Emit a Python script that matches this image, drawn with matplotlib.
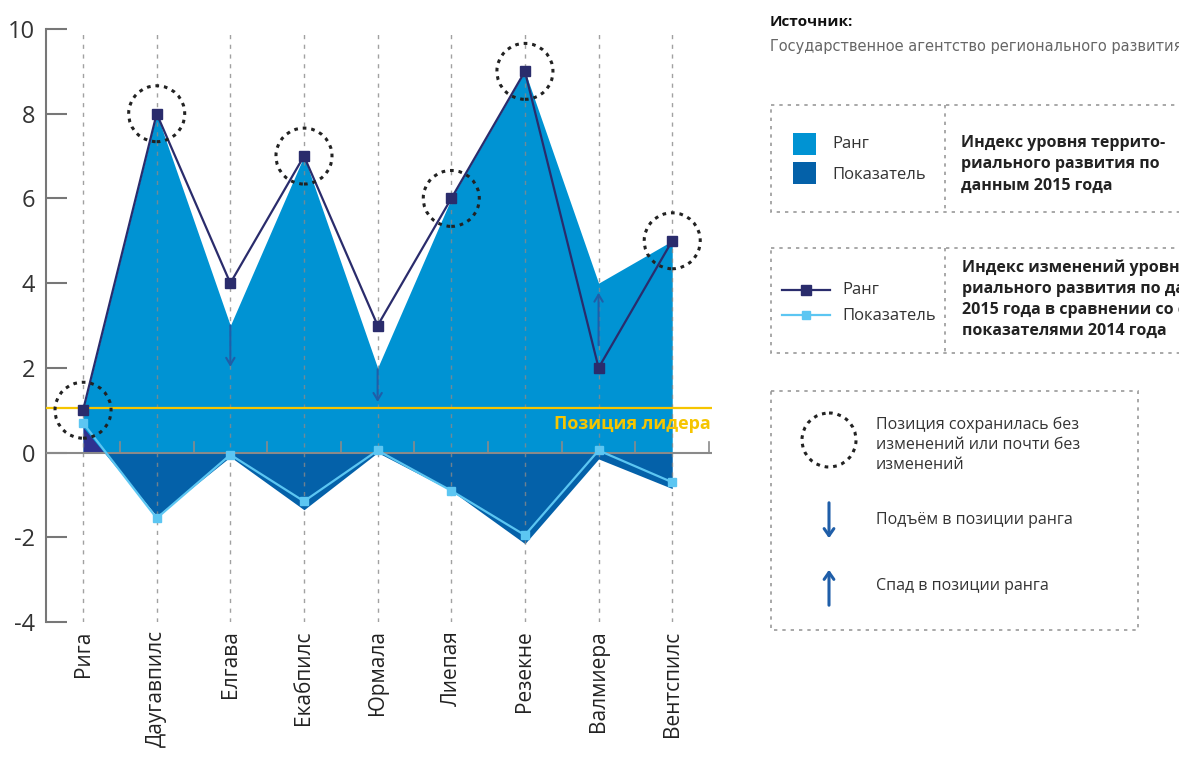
import matplotlib.pyplot as plt
from matplotlib.patches import Rectangle, Ellipse
from matplotlib.lines import Line2D

plt.rcParams['font.family'] = ['Open Sans', 'DejaVu Sans']

# data
cities = ['Рига', 'Даугавпилс', 'Елгава', 'Екабпилс', 'Юрмала',
          'Лиепая', 'Резекне', 'Валмиера', 'Вентспилс']
rank_2015 = [1, 8, 3, 7, 2, 6, 9, 4, 5]            # fill, light blue
index_2015 = [0.6, -1.5, -0.1, -1.35, 0.0, -0.9, -2.15, -0.15, -0.85]  # fill, dark blue
rank_change = [1, 8, 4, 7, 3, 6, 9, 2, 5]           # line, navy
index_change = [0.7, -1.55, -0.05, -1.15, 0.05, -0.9, -1.95, 0.05, -0.7]  # line, light
leader_level = 1.05
unchanged = [0, 1, 3, 5, 6, 8]        # circled points
arrows = [(2, 3.07, 1.96), (4, 2.03, 1.13), (7, 2.47, 3.84)]  # (city, from, to)

c_fill1 = '#0093d3'
c_fill2 = '#0461a9'
c_navy = '#2a2c6c'
c_pos = '#2e3190'
c_light = '#5cc6f2'
c_yellow = '#f6c500'
c_arrow = '#1f5ea8'
c_grey = '#777777'

fig = plt.figure(figsize=(11.79, 7.6), dpi=100)
ax = fig.add_axes([46 / 1179, 138 / 760, 666 / 1179, 593 / 760])

x = list(range(len(cities)))

ax.fill_between(x, 0, rank_2015, color=c_fill1, lw=0, zorder=1)
ax.fill_between(x, 0, index_2015, where=[v <= 0 for v in index_2015],
                interpolate=True, color=c_fill2, lw=0, zorder=2)
ax.fill_between(x, 0, index_2015, where=[v > 0 for v in index_2015],
                interpolate=True, color=c_pos, lw=0, zorder=2)

for i in x:
    ax.axvline(i, color='#8a8a8a', lw=1, ls=(0, (3, 4)), zorder=3, alpha=0.8)

ax.axhline(leader_level, color=c_yellow, lw=1.6, zorder=4)
ax.text(8.52, 0.67, 'Позиция лидера', color=c_yellow, fontsize=13,
        fontweight='bold', ha='right', va='center', zorder=6)

# zero line with small ticks between categories
ax.plot([-0.503, 8.54], [0, 0], color='#8a8a8a', lw=1.5, zorder=4)
for t in [i + 0.5 for i in x]:
    ax.plot([t, t], [0, 0.25], color='#8a8a8a', lw=1.2, zorder=4)

ax.plot(x, index_change, color=c_light, lw=1.6, marker='s', ms=6,
        mfc=c_light, mec=c_light, zorder=5)
ax.plot(x, rank_change, color=c_navy, lw=1.6, marker='s', ms=7,
        mfc=c_navy, mec=c_navy, zorder=5)

for i in unchanged:
    ax.add_patch(Ellipse((i, rank_change[i]), 56 / 73.6, 56 / 42.4,
                         fill=False, ec='#222222', lw=2.2,
                         ls=(0, (1.2, 1.6)), zorder=6))

for i, y0, y1 in arrows:
    ax.annotate('', xy=(i, y1), xytext=(i, y0),
                arrowprops=dict(arrowstyle='->,head_length=0.5,head_width=0.3',
                                color=c_arrow, lw=1.5), zorder=6)

ax.set_xlim(-0.503, 8.54)
ax.set_ylim(-4, 10)
ax.set_yticks([10, 8, 6, 4, 2, 0, -2, -4])
ax.set_yticklabels(['10', '8', '6', '4', '2', '0', '-2', '-4'])
ax.set_xticks(x)
ax.set_xticklabels(cities, rotation=90, fontsize=15, color='#222222')
ax.tick_params(axis='x', length=0, pad=6)
ax.tick_params(axis='y', direction='in', length=15, width=1.5, color=c_grey,
               labelsize=17, labelcolor='#333333', pad=8)
for s in ['top', 'right', 'bottom']:
    ax.spines[s].set_visible(False)
ax.spines['left'].set_color(c_grey)
ax.spines['left'].set_linewidth(1.5)
ax.patch.set_alpha(0)

# right panel in pixel coordinates
ov = fig.add_axes([0, 0, 1, 1], zorder=10)
ov.set_xlim(0, 1179)
ov.set_ylim(760, 0)
ov.axis('off')
ov.patch.set_alpha(0)

ov.text(770, 22, 'Источник:', fontsize=11, fontweight='bold', color='#111111',
        va='center')
ov.text(770, 47, 'Государственное агентство регионального развития',
        fontsize=10.5, color='#666666', va='center',
        family=['Liberation Sans Narrow', 'DejaVu Sans'])

box_ls = (0, (2, 3))
for (bx, by, bw, bh) in [(771, 105, 440, 107), (771, 248, 440, 105),
                         (771, 391, 367, 239)]:
    ov.add_patch(Rectangle((bx, by), bw, bh, fill=False, ec='#999999',
                           lw=1.2, ls=box_ls))
for by, bh in [(105, 107), (248, 105)]:
    ov.plot([945, 945], [by, by + bh], color='#999999', lw=1.2, ls=box_ls)

# legend 1
ov.add_patch(Rectangle((793, 133), 23, 22, color=c_fill1, lw=0))
ov.add_patch(Rectangle((793, 162), 23, 22, color=c_fill2, lw=0))
ov.text(832, 144, 'Ранг', fontsize=12, color='#333333', va='center')
ov.text(832, 175, 'Показатель', fontsize=12, color='#333333', va='center')
ov.text(961, 135, 'Индекс уровня террито-\nриального развития по\nданным 2015 года',
        fontsize=11.5, fontweight='bold', color='#222222', va='top',
        linespacing=1.45)

# legend 2
ov.add_line(Line2D([782, 806, 830], [290, 290, 290], color=c_navy, lw=1.6,
                   marker='s', ms=7, markevery=[1], mfc=c_navy, mec=c_navy))
ov.add_line(Line2D([782, 806, 830], [315, 315, 315], color=c_light, lw=1.6,
                   marker='s', ms=6, markevery=[1], mfc=c_light, mec=c_light))
ov.text(842, 290, 'Ранг', fontsize=12, color='#333333', va='center')
ov.text(842, 316, 'Показатель', fontsize=12, color='#333333', va='center')
ov.text(962, 260, 'Индекс изменений уровня террито-\nриального развития по данным\n'
        '2015 года в сравнении со своими\nпоказателями 2014 года',
        fontsize=11.5, fontweight='bold', color='#222222', va='top',
        linespacing=1.4)

# legend 3
ov.add_patch(Ellipse((829, 440), 54, 54, fill=False, ec='#222222', lw=2.2,
                     ls=(0, (1.2, 1.6))))
ov.text(876, 445, 'Позиция сохранилась без\nизменений или почти без\nизменений',
        fontsize=11.5, color='#333333', va='center', linespacing=1.35)
ov.annotate('', xy=(829, 541), xytext=(829, 500),
            arrowprops=dict(arrowstyle='->,head_length=0.5,head_width=0.35',
                            color=c_arrow, lw=2.2))
ov.text(876, 520, 'Подъём в позиции ранга', fontsize=11.5, color='#333333',
        va='center')
ov.annotate('', xy=(829, 567), xytext=(829, 608),
            arrowprops=dict(arrowstyle='->,head_length=0.5,head_width=0.35',
                            color=c_arrow, lw=2.2))
ov.text(876, 586, 'Спад в позиции ранга', fontsize=11.5, color='#333333',
        va='center')

fig.savefig('out.png', dpi=100)
